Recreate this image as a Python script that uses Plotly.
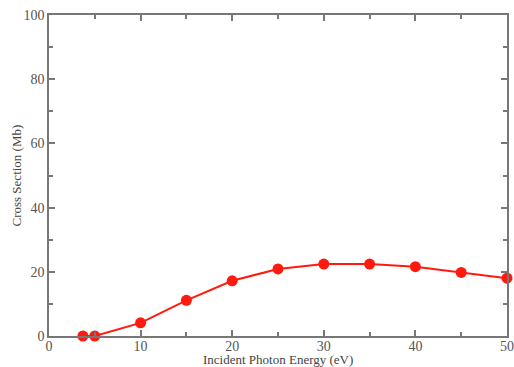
import plotly.graph_objects as go

energy = [3.7, 5, 10, 15, 20, 25, 30, 35, 40, 45, 50]
cross_section = [0.0, 0.0, 4.1, 11.1, 17.2, 20.9, 22.4, 22.4, 21.6, 19.8, 18.0]

fig = go.Figure()
fig.add_trace(go.Scatter(
    x=energy, y=cross_section, mode="lines+markers",
    line=dict(color="#ff1a10", width=2),
    marker=dict(color="#ff1a10", size=11),
    cliponaxis=False, showlegend=False,
))

font_family = "Liberation Serif, Times New Roman, serif"
axis_common = dict(
    showgrid=False, zeroline=False, showline=True, linecolor="#777777", linewidth=1.5,
    mirror="ticks", ticks="inside", ticklen=6, tickcolor="#777777", tickwidth=1.5,
    tickfont=dict(family=font_family, size=14, color="#555555"),
    automargin=False,
)
fig.update_layout(
    width=514, height=367,
    margin=dict(l=49, r=7, t=15, b=31),
    paper_bgcolor="white", plot_bgcolor="white",
    font=dict(family=font_family, color="#444444"),
    xaxis=dict(range=[0, 50], dtick=10, tick0=0, ticklabelstandoff=-4,
               minor=dict(dtick=5, ticks="inside", ticklen=4, tickcolor="#777777"),
               **axis_common),
    yaxis=dict(range=[0, 100], dtick=20, tick0=0,
               minor=dict(dtick=10, ticks="inside", ticklen=4, tickcolor="#777777"),
               **axis_common),
    annotations=[
        dict(text="Incident Photon Energy (eV)", xref="paper", yref="paper",
             x=0.5, y=0, yshift=-23, yanchor="middle", xanchor="center", showarrow=False,
             font=dict(size=13, family=font_family, color="#444444")),
        dict(text="Cross Section (Mb)", xref="paper", yref="paper",
             x=0, xshift=-33, y=0.5, textangle=-90, xanchor="center", yanchor="middle",
             showarrow=False, font=dict(size=13, family=font_family, color="#444444")),
    ],
)
fig.write_html("out.html", config={"displayModeBar": False},
               post_script="document.body.style.margin='0';document.body.style.overflow='hidden';")
